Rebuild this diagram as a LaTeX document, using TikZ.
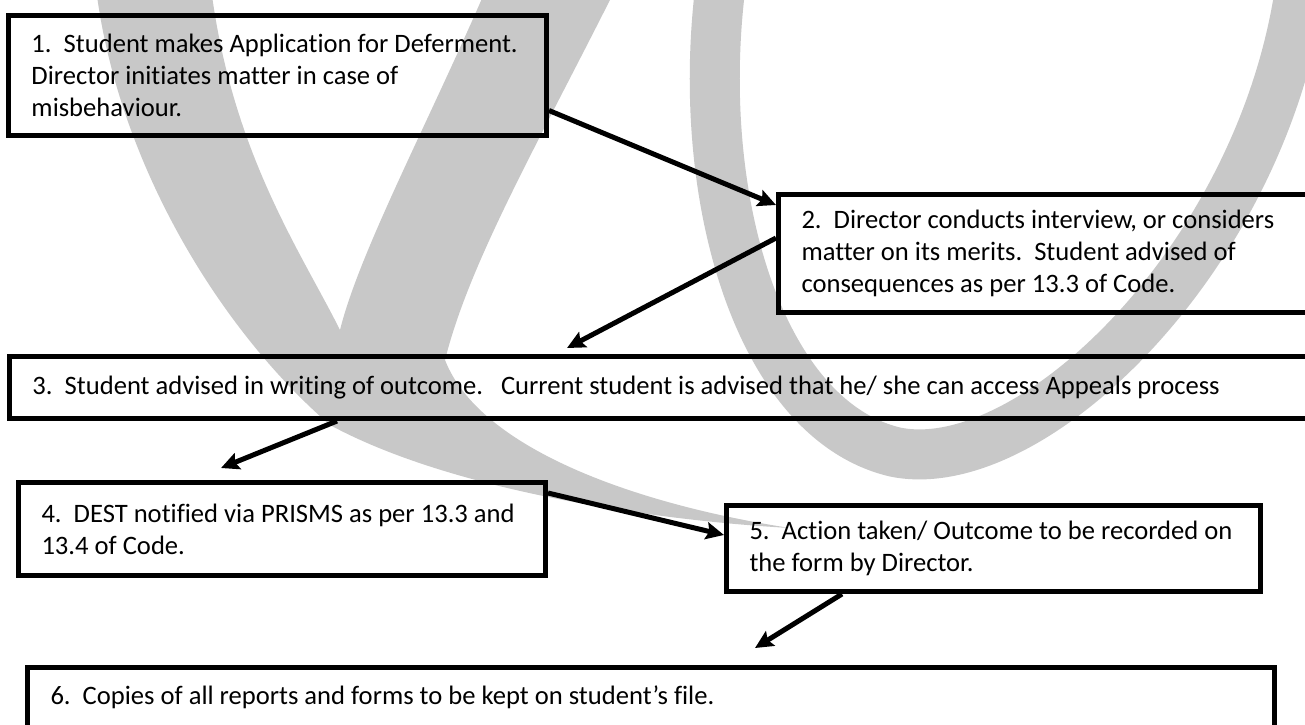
\documentclass[tikz,border=0pt]{standalone}
\usepackage{fontspec}
\setmainfont{Carlito}[Ligatures=NoCommon]
\usetikzlibrary{arrows.meta,positioning}
\definecolor{markgray}{HTML}{C8C8C8}
\hyphenpenalty=10000
\tikzset{
  stagebox/.style={draw=black, line width=2.5pt, anchor=north west, align=flush left,
                   inner xsep=11.5pt, inner ysep=0pt,
                   font=\fontsize{13.3}{16}\selectfont\frenchspacing},
  flowarrow/.style={line width=2.5pt, -{Stealth[length=9pt,width=8.5pt,inset=1.5pt]}}
}

\begin{document}
\begin{tikzpicture}[x=0.5pt,y=-0.5pt]
    \useasboundingbox (0,0) rectangle (1305,724);
    \fill[white] (0,0) rectangle (1305,724);

    % watermark behind the chart
    \fill[markgray] (95,-20) .. controls (115,160) and (220,330) .. (330,425)
                    .. controls (450,490) and (650,520) .. (790,528)
                    .. controls (640,505) and (480,450) .. (445,360)
                    .. controls (470,260) and (540,140) .. (620,-20)
                    -- (490,-20) .. controls (430,120) and (360,250) .. (340,330)
                    .. controls (300,250) and (230,150) .. (210,-20) -- cycle;
    \draw[markgray, line width=25pt] (720,-10) .. controls (695,200) and (760,420) .. (895,452)
                    .. controls (1030,480) and (1260,260) .. (1300,-10);

    % steps
    \node[stagebox, minimum width=269pt, minimum height=60pt, text width=246pt] (b1) at (6,13)
      {1.\ \ Student makes Application for Deferment.\\Director initiates matter in case of\\misbehaviour.};
    \node[stagebox, minimum width=400pt, minimum height=59pt, text width=377pt] (b2) at (776,192)
      {2.\ \ Director conducts interview, or considers\\matter on its merits.\ \ Student advised of\\consequences as per 13.3 of Code.};
    \node[stagebox, minimum width=750pt, minimum height=31pt, text width=727pt] (b3) at (7,354)
      {3.\ \ Student advised in writing of outcome.\ \ \ Current student is advised that he/ she can access Appeals process};
    \node[stagebox, minimum width=263.5pt, minimum height=46.5pt, text width=240.5pt] (b4) at (16,480)
      {4.\ \ DEST notified via PRISMS as per 13.3 and\\13.4 of Code.};
    \node[stagebox, minimum width=267pt, minimum height=43pt, text width=244pt] (b5) at (724,503)
      {5.\ \ Action taken/ Outcome to be recorded on\\the form by Director.};
    \node[stagebox, minimum width=623.5pt, minimum height=30pt, text width=600.5pt] (b6) at (25,665)
      {6.\ \ Copies of all reports and forms to be kept on student’s file.};

    % connectors
    \draw[flowarrow] ([yshift=-17.5pt]b1.east) -- ([yshift=-6.5pt]b2.north west);
    \draw[flowarrow] ([yshift=-23pt]b2.north west) -- ([xshift=280pt,yshift=3pt]b3.north west);
    \draw[flowarrow] ([xshift=165pt]b3.south west) -- ([xshift=102.5pt,yshift=6pt]b4.north west);
    \draw[flowarrow] ([yshift=-6.5pt]b4.north east) -- ([yshift=-16pt]b5.north west);
    \draw[flowarrow] ([xshift=59pt]b5.south west) -- ([xshift=365pt,yshift=8.5pt]b6.north west);
\end{tikzpicture}
\end{document}
